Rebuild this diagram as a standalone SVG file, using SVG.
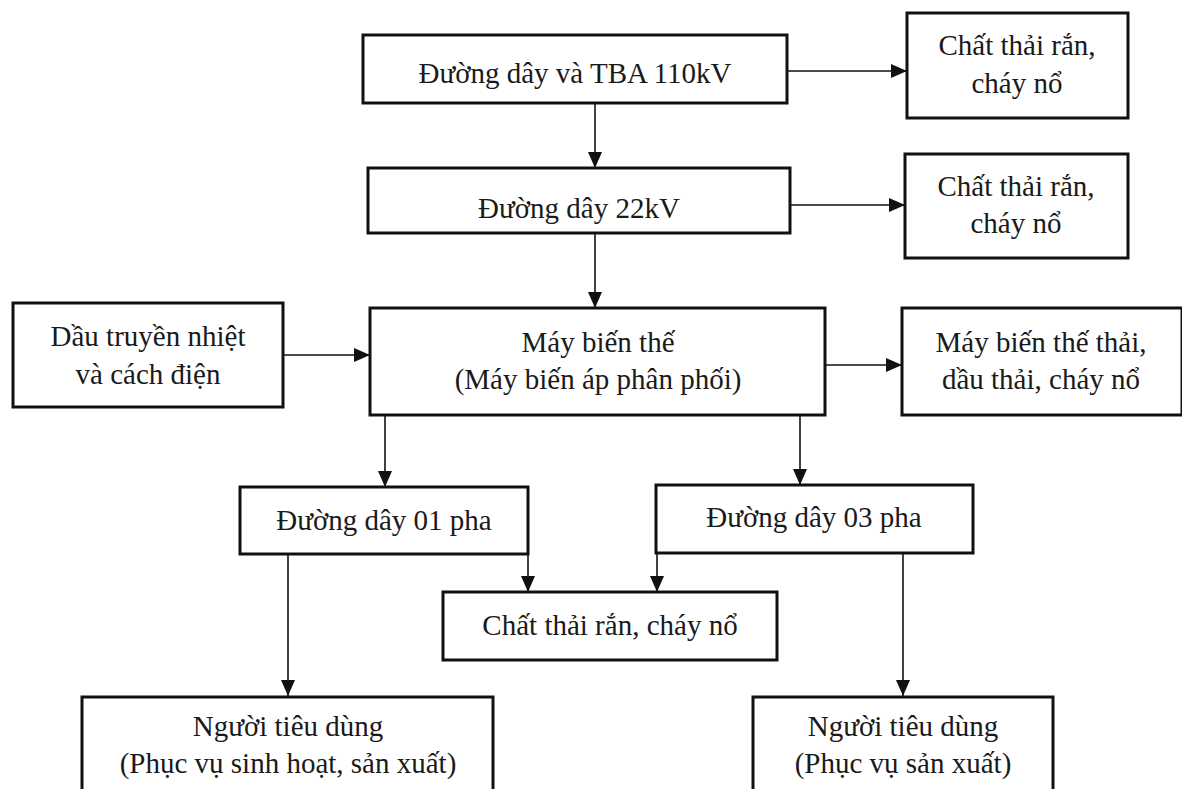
<svg xmlns="http://www.w3.org/2000/svg" width="1182" height="789" viewBox="0 0 1182 789">
<style>
.box{fill:#fff;stroke:#111;stroke-width:3}
.t{font-family:"Liberation Serif","Times New Roman",serif;font-size:29px;fill:#1a1a1a;text-anchor:middle}
.c{stroke:#111;stroke-width:1.6;fill:none;marker-end:url(#ah)}
</style>
<defs>
<marker id="ah" markerUnits="userSpaceOnUse" markerWidth="16" markerHeight="14" refX="16" refY="7" orient="auto">
<path d="M0,0 L16,7 L0,14 Z" fill="#111"/>
</marker>
</defs>
<rect width="1182" height="789" fill="#fff"/>
<g id="connectors">
<line class="c" x1="787" y1="71" x2="907" y2="71"/>
<line class="c" x1="790" y1="205" x2="905" y2="205"/>
<line class="c" x1="283" y1="355" x2="370" y2="355"/>
<line class="c" x1="825" y1="365" x2="902" y2="365"/>
<line class="c" x1="595" y1="103" x2="595" y2="168"/>
<line class="c" x1="595" y1="233" x2="595" y2="308"/>
<line class="c" x1="385" y1="415" x2="385" y2="487"/>
<line class="c" x1="800" y1="415" x2="800" y2="485"/>
<line class="c" x1="528" y1="554" x2="528" y2="592"/>
<line class="c" x1="657" y1="553" x2="657" y2="592"/>
<line class="c" x1="288" y1="554" x2="288" y2="696"/>
<line class="c" x1="903" y1="553" x2="903" y2="696"/>
</g>
<g id="n110">
<rect class="box" x="363" y="35" width="424" height="68"/>
<text class="t" x="575" y="83">Đường dây và TBA 110kV</text>
</g>
<g id="w1">
<rect class="box" x="907" y="13" width="221" height="105"/>
<text class="t" x="1017" y="55">Chất thải rắn,</text>
<text class="t" x="1017" y="93">cháy nổ</text>
</g>
<g id="n22">
<rect class="box" x="368" y="168" width="422" height="65"/>
<text class="t" x="579" y="218">Đường dây 22kV</text>
</g>
<g id="w2">
<rect class="box" x="905" y="154" width="223" height="104"/>
<text class="t" x="1016" y="196">Chất thải rắn,</text>
<text class="t" x="1016" y="233">cháy nổ</text>
</g>
<g id="oil">
<rect class="box" x="13" y="303" width="270" height="104"/>
<text class="t" x="148" y="346">Dầu truyền nhiệt</text>
<text class="t" x="148" y="384">và cách điện</text>
</g>
<g id="mbt">
<rect class="box" x="370" y="308" width="455" height="107"/>
<text class="t" x="598" y="352">Máy biến thế</text>
<text class="t" x="598" y="389">(Máy biến áp phân phối)</text>
</g>
<g id="w3">
<rect class="box" x="902" y="308" width="280" height="107"/>
<text class="t" x="1041" y="352">Máy biến thế thải,</text>
<text class="t" x="1041" y="389">dầu thải, cháy nổ</text>
</g>
<g id="p1">
<rect class="box" x="240" y="487" width="288" height="67"/>
<text class="t" x="384" y="530">Đường dây 01 pha</text>
</g>
<g id="p3">
<rect class="box" x="656" y="485" width="317" height="68"/>
<text class="t" x="814" y="527">Đường dây 03 pha</text>
</g>
<g id="w4">
<rect class="box" x="443" y="592" width="334" height="68"/>
<text class="t" x="610" y="635">Chất thải rắn, cháy nổ</text>
</g>
<g id="u1">
<rect class="box" x="82" y="697" width="411" height="110"/>
<text class="t" x="288" y="736">Người tiêu dùng</text>
<text class="t" x="288" y="773">(Phục vụ sinh hoạt, sản xuất)</text>
</g>
<g id="u2">
<rect class="box" x="753" y="697" width="300" height="110"/>
<text class="t" x="903" y="736">Người tiêu dùng</text>
<text class="t" x="903" y="773">(Phục vụ sản xuất)</text>
</g>
</svg>
